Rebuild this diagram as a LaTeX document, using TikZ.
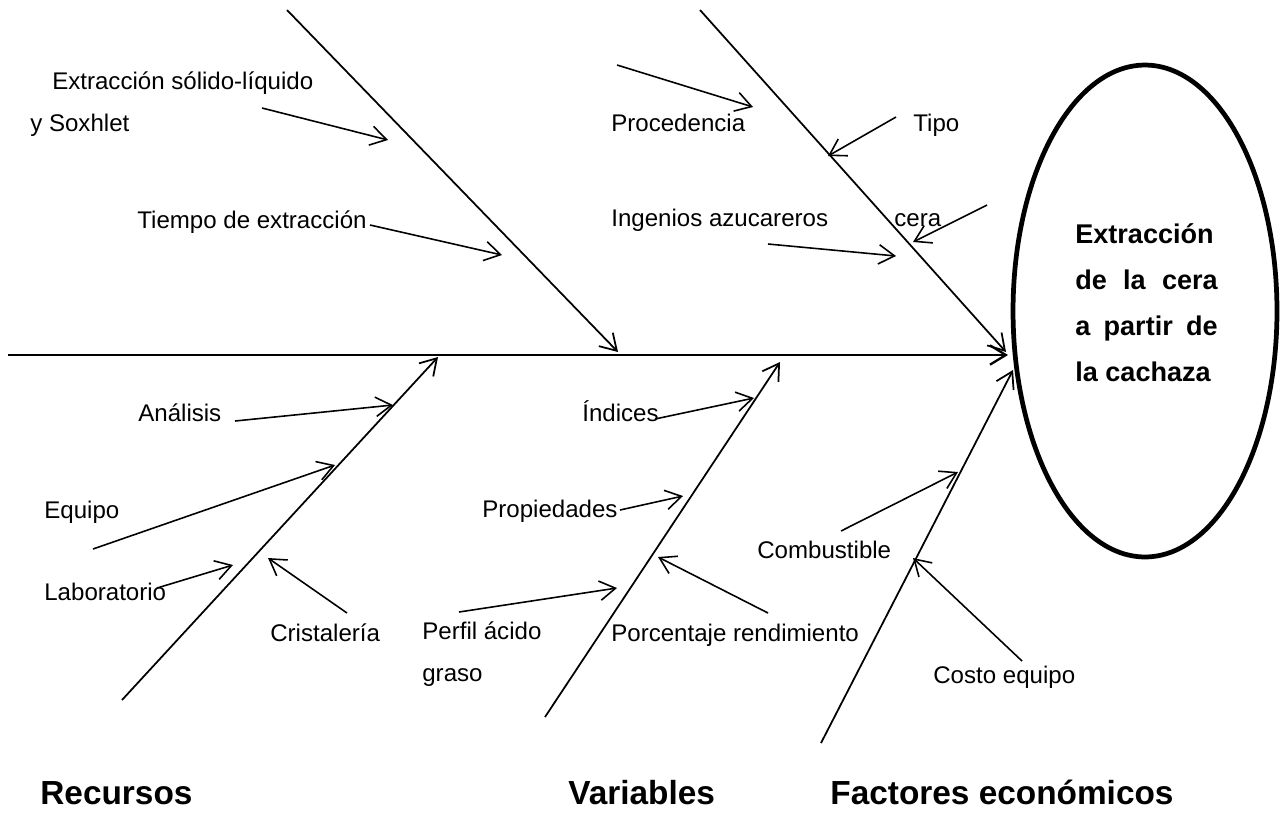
\documentclass[tikz,border=0pt]{standalone}
\usepackage{fontspec}
\setmainfont{Liberation Sans}
\usetikzlibrary{arrows.meta,shapes.geometric}

\begin{document}
\begin{tikzpicture}[
    x=0.02cm, y=-0.02cm,
    bone/.style={line width=1pt,-{Straight Barb[length=9pt,width=11pt]}},
    spine/.style={bone,line width=1.3pt},
    twig/.style={bone,line width=0.9pt},
    lbl/.style={anchor=base west,inner sep=0pt,font=\fontsize{13.7}{24}\selectfont},
    lbltwo/.style={lbl,anchor=west,align=left},
    head/.style={anchor=base west,inner sep=0pt,font=\bfseries\fontsize{19}{22}\selectfont},
    goal/.style={ellipse,draw,line width=2.7pt,inner sep=0pt,
                 minimum width=5.28cm,minimum height=9.84cm}
]
\useasboundingbox (0,0) rectangle (1283,836);

% effect
\node[goal] (goal) at (1145,311) {};
\node[anchor=west,inner sep=0pt,align=left,
      font=\bfseries\fontsize{15.4}{26.2}\selectfont] (goaltxt) at (1075,303)
    {Extracción\\\makebox[81pt][s]{de la cera}\\\makebox[81pt][s]{a partir de}\\la cachaza};

% spine and bones
\coordinate (spA) at (8,355);    \coordinate (spB) at (1008,355);
\coordinate (tlA) at (287,10);   \coordinate (tlB) at (618,352);
\coordinate (trA) at (700,10);   \coordinate (trB) at (1006,352);
\coordinate (blA) at (122,700);  \coordinate (blB) at (438,357);
\coordinate (bmA) at (545,717);  \coordinate (bmB) at (780,362);
\coordinate (brA) at (821,743);  \coordinate (brB) at (1013,370);
\draw[spine] (spA) -- (spB);
\foreach \b in {tl,tr,bl,bm,br}
    \draw[bone] (\b A) -- (\b B);

% causes, upper left
\node[lbltwo] (ext) at (30,104) {\hspace*{12.5pt}Extracción sólido-líquido\\y Soxhlet};
\node[lbl] (tiempo) at (137,228) {Tiempo de extracción};
\coordinate (extA) at (262,108);     \coordinate (extB) at (388,140);
\coordinate (tiempoA) at (370,225);  \coordinate (tiempoB) at (502,255);

% causes, upper right
\node[lbl] (proc) at (611,131) {Procedencia};
\node[lbl] (tipo) at (913,131) {Tipo};
\node[lbl] (ingenios) at (611,226) {Ingenios azucareros};
\node[lbl] (cera) at (894,226) {cera};
\coordinate (procA) at (617,65);      \coordinate (procB) at (753,107);
\coordinate (tipoA) at (896,117);     \coordinate (tipoB) at (828,156);
\coordinate (ceraA) at (987,205);     \coordinate (ceraB) at (913,242);
\coordinate (ingeniosA) at (768,244); \coordinate (ingeniosB) at (896,256);

% Recursos
\node[lbl] (analisis) at (138,421) {Análisis};
\node[lbl] (equipo) at (44,518) {Equipo};
\node[lbl] (lab) at (44,600) {Laboratorio};
\node[lbl] (crist) at (270,641) {Cristalería};
\coordinate (analisisA) at (235,421); \coordinate (analisisB) at (393,405);
\coordinate (equipoA) at (93,549);    \coordinate (equipoB) at (335,465);
\coordinate (labA) at (157,588);      \coordinate (labB) at (233,565);
\coordinate (cristA) at (347,613);    \coordinate (cristB) at (268,558);

% Variables
\node[lbl] (indices) at (582,421) {Índices};
\node[lbl] (prop) at (482,517) {Propiedades};
\node[lbltwo] (perfil) at (422,654) {Perfil ácido\\graso};
\node[lbl] (porc) at (611,641) {Porcentaje rendimiento};
\coordinate (indicesA) at (655,419);  \coordinate (indicesB) at (754,398);
\coordinate (propA) at (620,510);     \coordinate (propB) at (683,496);
\coordinate (perfilA) at (459,612);   \coordinate (perfilB) at (617,588);
\coordinate (porcA) at (768,613);     \coordinate (porcB) at (658,557);

% Factores economicos
\node[lbl] (comb) at (757,558) {Combustible};
\node[lbl] (costo) at (933,683) {Costo equipo};
\coordinate (combA) at (841,531);     \coordinate (combB) at (958,472);
\coordinate (costoA) at (1022,661);   \coordinate (costoB) at (913,558);

\foreach \t in {ext,tiempo,proc,tipo,cera,ingenios,analisis,equipo,lab,crist,
                indices,prop,perfil,porc,comb,costo}
    \draw[twig] (\t A) -- (\t B);

% categories
\node[head] (recursos) at (40,804) {Recursos};
\node[head] (variables) at (568,804) {Variables};
\node[head] (factores) at (830,804) {Factores económicos};
\end{tikzpicture}
\end{document}
